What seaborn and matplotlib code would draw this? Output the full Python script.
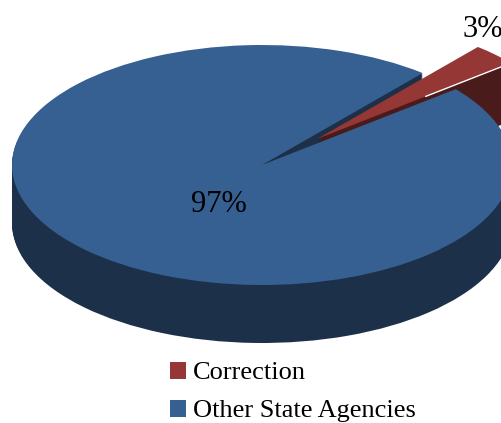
import numpy as np
import matplotlib
matplotlib.use("Agg")
import matplotlib.pyplot as plt
from matplotlib.patches import Patch
import seaborn as sns

categories = ["Correction", "Other State Agencies"]
values = [3, 97]
top_colors = ["#953735", "#376092"]
side_colors = ["#4A1B1B", "#1C3049"]

sns.set_theme(style="white")
plt.rcParams["font.family"] = ["Liberation Serif", "DejaVu Serif"]
palette = sns.color_palette(top_colors)
side_palette = sns.color_palette(side_colors)

W, H = 502, 423
CX, CY, RX, RY, DEPTH = 262, 165, 250, 120, 58
START, EXPLODE = 39.2, (0.31, 0)

fig = plt.figure(figsize=(W / 100, H / 100), dpi=100)
ax = fig.add_axes([0, 0, 1, 1])


def layer(offset, colors, zorder):
    wedges, _ = ax.pie(values, explode=EXPLODE, colors=colors, startangle=START,
                       center=(0, -offset / RY), frame=True, normalize=True,
                       wedgeprops=dict(linewidth=0, zorder=zorder))
    return wedges


# extruded side walls, from bottom to the top face
for d in np.arange(DEPTH, 0, -1):
    w = layer(d, side_palette, 1)
    w[1].set_zorder(1)
    w[0].set_zorder(2)
top = layer(0, palette, 3)
top[1].set_zorder(4)

# thin highlight along the lower edge of the exploded slice
wc = top[0]
a = np.deg2rad(wc.theta1)
cx0, cy0 = wc.center
rr = np.array([0.56, 1.0])
ax.plot(cx0 + rr * np.cos(a), cy0 + rr * np.sin(a), color="white", lw=1.0, zorder=5)

ax.set_aspect("auto")
ax.set_xlim(-CX / RX, (W - CX) / RX)
ax.set_ylim(-(H - CY) / RY, CY / RY)
ax.axis("off")

ax.text(0.884, 1.13, f"{values[0]}%", fontsize=22, ha="center", va="center", color="black", zorder=6)
ax.text(-0.172, -0.325, f"{values[1]}%", fontsize=22, ha="center", va="center", color="black", zorder=6)

handles = [Patch(facecolor=c, edgecolor="none", label=n) for c, n in zip(palette, categories)]
fig.legend(handles=handles, loc="upper left", bbox_to_anchor=(165 / W, 1 - 356.5 / H),
           frameon=False, fontsize=19, labelspacing=0.58, handlelength=0.6, handleheight=0.6,
           handletextpad=0.27, borderpad=0.2, borderaxespad=0, labelcolor="black")

fig.savefig("out.png", dpi=100)
